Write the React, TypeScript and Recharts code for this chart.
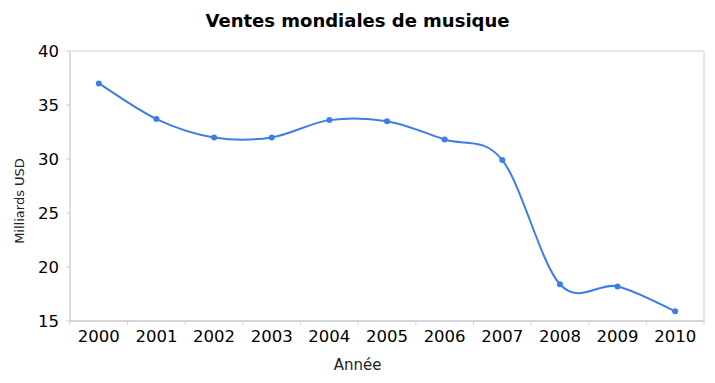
import { LineChart, Line, XAxis, YAxis, CartesianGrid } from 'recharts';

const years = ['2000', '2001', '2002', '2003', '2004', '2005', '2006', '2007', '2008', '2009', '2010'];
const sales = [37.0, 33.7, 32.0, 32.0, 33.6, 33.5, 31.8, 29.9, 18.4, 18.2, 15.9];
const yTicks = [15, 20, 25, 30, 35, 40];

const data = years.map((year, i) => ({ year, sales: sales[i] }));

const W = 715;
const H = 383;
const PLOT_LEFT = 70;
const PLOT_RIGHT = 11;
const BAND = (W - PLOT_LEFT - PLOT_RIGHT) / years.length;
const COLOR = '#3d7ee6';
const FONT = '"DejaVu Sans", sans-serif';

// uniform catmull-rom spline, passes through every point
function smoothCurve(context: any) {
  let pts: number[][] = [];
  return {
    areaStart() {},
    areaEnd() {},
    lineStart() {
      pts = [];
    },
    point(x: number, y: number) {
      pts.push([+x, +y]);
    },
    lineEnd() {
      const n = pts.length;
      if (!n) return;
      context.moveTo(pts[0][0], pts[0][1]);
      const k = 1 / 6;
      for (let i = 0; i < n - 1; i++) {
        const p0 = pts[i - 1] || pts[i];
        const p1 = pts[i];
        const p2 = pts[i + 1];
        const p3 = pts[i + 2] || p2;
        context.bezierCurveTo(
          p1[0] + (p2[0] - p0[0]) * k,
          p1[1] + (p2[1] - p0[1]) * k,
          p2[0] - (p3[0] - p1[0]) * k,
          p2[1] - (p3[1] - p1[1]) * k,
          p2[0],
          p2[1],
        );
      }
    },
  };
}

function YearTick({ x, y, payload, index }: any) {
  const left = x - BAND / 2;
  return (
    <g>
      <line x1={left} y1={y} x2={left} y2={y + 4} stroke="#d0d0d0" />
      {index === years.length - 1 && (
        <line x1={x + BAND / 2} y1={y} x2={x + BAND / 2} y2={y + 4} stroke="#d0d0d0" />
      )}
      <text x={x} y={y + 21} textAnchor="middle" fontSize={16.5} fill="#000" fontFamily={FONT}>
        {payload.value}
      </text>
    </g>
  );
}

export default function App() {
  return (
    <div style={{ position: 'absolute', left: 0, top: 0, width: W, height: H, background: '#fff', fontFamily: FONT }}>
      <div
        style={{
          position: 'absolute',
          left: 0,
          width: W,
          top: 10,
          textAlign: 'center',
          fontSize: 18,
          fontWeight: 'bold',
          color: '#000',
          lineHeight: '22px',
        }}
      >
        Ventes mondiales de musique
      </div>
      <div
        style={{
          position: 'absolute',
          left: 0,
          width: W,
          top: 356,
          textAlign: 'center',
          fontSize: 15,
          color: '#222',
          lineHeight: '18px',
        }}
      >
        Année
      </div>
      <div
        style={{
          position: 'absolute',
          left: 20,
          top: 201,
          transform: 'translate(-50%, -50%) rotate(-90deg)',
          whiteSpace: 'nowrap',
          fontSize: 13,
          color: '#222',
          lineHeight: '16px',
        }}
      >
        Milliards USD
      </div>
      <div style={{ position: 'absolute', left: 0, top: 0 }}>
        <LineChart width={W} height={H} data={data} margin={{ top: 51, right: 0, bottom: 0, left: 0 }}>
          <CartesianGrid vertical={false} stroke="#e0e0e0" strokeWidth={1.5} />
          <XAxis
            dataKey="year"
            scale="band"
            height={62}
            axisLine={{ stroke: '#d0d0d0', strokeWidth: 1.5 }}
            tickLine={false}
            tickSize={0}
            tickMargin={0}
            interval={0}
            tick={<YearTick />}
          />
          <YAxis
            yAxisId="left"
            width={PLOT_LEFT}
            domain={[15, 40]}
            ticks={yTicks}
            axisLine={{ stroke: '#d0d0d0', strokeWidth: 1.5 }}
            tickLine={{ stroke: '#d0d0d0' }}
            tickSize={4}
            tickMargin={7}
            tick={{ fontSize: 16.5, fill: '#000', fontFamily: FONT }}
          />
          <YAxis
            yAxisId="right"
            orientation="right"
            width={PLOT_RIGHT}
            domain={[15, 40]}
            tick={false}
            tickLine={false}
            axisLine={{ stroke: '#e0e0e0', strokeWidth: 1.5 }}
          />
          <Line
            yAxisId="left"
            dataKey="sales"
            type={smoothCurve as any}
            stroke={COLOR}
            strokeWidth={2}
            dot={{ r: 3, fill: COLOR, stroke: COLOR, strokeWidth: 0 }}
            activeDot={false}
            isAnimationActive={false}
          />
        </LineChart>
      </div>
    </div>
  );
}
